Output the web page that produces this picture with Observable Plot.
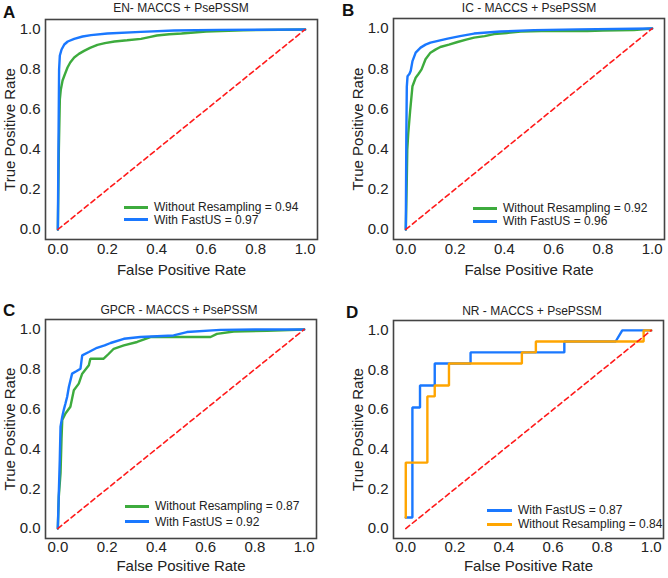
<!DOCTYPE html>
<html>
<head>
<meta charset="utf-8">
<script src="https://cdn.jsdelivr.net/npm/d3@7"></script>
<script src="https://cdn.jsdelivr.net/npm/@observablehq/plot@0.6"></script>
<style>
  html, body { margin: 0; padding: 0; background: #fff; }
  #page { position: relative; width: 668px; height: 578px; overflow: hidden; background: #fff;
          font-family: "Liberation Sans", Arial, Helvetica, sans-serif; color: #222; }
  .panel { position: absolute; width: 334px; height: 289px; }
  .abs { position: absolute; line-height: 1; white-space: nowrap; }
  .title { font-size: 12px; transform: translate(-50%, -50%); }
  .letter { font-size: 17px; font-weight: bold; color: #111; }
  .lrow { position: absolute; display: flex; align-items: center; transform: translateY(-50%);
          font-size: 12px; line-height: 1; white-space: nowrap; }
  .lrow .sw { display: inline-block; height: 3px; margin-right: 6px; }
</style>
</head>
<body>
<div id="page"></div>
<script>
// ---------------- data ----------------
const ticks = [0, 0.2, 0.4, 0.6, 0.8, 1.0];
const chanceLine = [0, 1];

// Panel A: EN
const enWithoutFpr = [0, 0.004, 0.008, 0.012, 0.019, 0.028, 0.039, 0.05, 0.066, 0.085, 0.106, 0.13, 0.16, 0.19, 0.229, 0.28, 0.336, 0.37, 0.4, 0.45, 0.5, 0.6, 0.75, 1];
const enWithoutTpr = [0, 0.4, 0.65, 0.7, 0.745, 0.775, 0.81, 0.835, 0.86, 0.878, 0.893, 0.908, 0.923, 0.932, 0.94, 0.946, 0.953, 0.962, 0.97, 0.976, 0.98, 0.99, 0.996, 1];
const enFastFpr = [0, 0.003, 0.005, 0.008, 0.015, 0.026, 0.04, 0.066, 0.1, 0.134, 0.2, 0.336, 0.47, 0.65, 1];
const enFastTpr = [0, 0.5, 0.8, 0.87, 0.9, 0.925, 0.94, 0.953, 0.965, 0.972, 0.98, 0.988, 0.995, 0.998, 1];

// Panel B: IC
const icWithoutFpr = [0, 0.004, 0.006, 0.01, 0.018, 0.027, 0.04, 0.052, 0.064, 0.08, 0.1, 0.12, 0.14, 0.175, 0.21, 0.245, 0.277, 0.32, 0.358, 0.41, 0.466, 0.55, 0.655, 0.737, 0.8, 0.926, 1];
const icWithoutTpr = [0, 0.25, 0.4, 0.48, 0.597, 0.713, 0.755, 0.775, 0.797, 0.847, 0.88, 0.895, 0.908, 0.92, 0.933, 0.945, 0.955, 0.962, 0.972, 0.978, 0.985, 0.987, 0.988, 0.988, 0.99, 0.993, 1];
const icFastFpr = [0, 0.002, 0.004, 0.007, 0.015, 0.02, 0.027, 0.04, 0.06, 0.08, 0.1, 0.135, 0.17, 0.22, 0.277, 0.33, 0.385, 0.52, 0.7, 1];
const icFastTpr = [0, 0.45, 0.71, 0.763, 0.775, 0.79, 0.838, 0.88, 0.905, 0.92, 0.93, 0.94, 0.95, 0.962, 0.975, 0.98, 0.985, 0.992, 0.996, 1];

// Panel C: GPCR
const gpcrWithoutFpr = [0, 0.004, 0.011, 0.015, 0.018, 0.031, 0.051, 0.065, 0.085, 0.099, 0.126, 0.132, 0.186, 0.207, 0.227, 0.268, 0.322, 0.376, 0.5, 0.62, 0.646, 0.714, 0.85, 1];
const gpcrWithoutTpr = [0, 0.16, 0.278, 0.45, 0.545, 0.578, 0.612, 0.695, 0.728, 0.778, 0.82, 0.853, 0.853, 0.878, 0.903, 0.92, 0.937, 0.962, 0.962, 0.962, 0.978, 0.99, 0.993, 1];
const gpcrFastFpr = [0, 0.004, 0.008, 0.011, 0.018, 0.025, 0.031, 0.038, 0.045, 0.058, 0.075, 0.092, 0.099, 0.126, 0.159, 0.19, 0.214, 0.268, 0.335, 0.47, 0.524, 0.66, 0.8, 1];
const gpcrFastTpr = [0, 0.178, 0.345, 0.512, 0.562, 0.6, 0.628, 0.662, 0.712, 0.778, 0.79, 0.803, 0.87, 0.887, 0.908, 0.92, 0.932, 0.953, 0.962, 0.97, 0.987, 0.998, 1, 1];

// Panel D: NR
const nrFastFpr = [0, 0.027, 0.027, 0.058, 0.058, 0.118, 0.118, 0.264, 0.264, 0.646, 0.646, 0.855, 0.882, 1];
const nrFastTpr = [0.056, 0.056, 0.611, 0.611, 0.722, 0.722, 0.833, 0.833, 0.889, 0.889, 0.944, 0.944, 1, 1];
const nrWithoutFpr = [0, 0, 0.088, 0.088, 0.118, 0.118, 0.176, 0.176, 0.473, 0.473, 0.53, 0.53, 0.969, 0.969, 1];
const nrWithoutTpr = [0.056, 0.333, 0.333, 0.667, 0.667, 0.722, 0.722, 0.833, 0.833, 0.889, 0.889, 0.944, 0.944, 1, 1];

const GREEN = "#3dab3d", BLUE = "#1a78ff", ORANGE = "#ffa500";

const panels = [
  { letter: "A", title: "EN- MACCS + PsePSSM", left: 0, top: 0,
    m: {l: 45, r: 17, t: 19, b: 50}, tickPad: 4, labelOffset: 35,
    titlePos: [181, 7.5], letterPos: [3, 4],
    series: [
      {name: "Without Resampling = 0.94", fpr: enWithoutFpr, tpr: enWithoutTpr, color: GREEN},
      {name: "With FastUS = 0.97", fpr: enFastFpr, tpr: enFastTpr, color: BLUE}],
    legend: {x: 124, y: 207, dy: 12.5, w: 24} },
  { letter: "B", title: "IC - MACCS + PsePSSM", left: 334, top: 0,
    m: {l: 59, r: 4, t: 18, b: 50}, tickPad: 4, labelOffset: 35,
    titlePos: [195, 7.5], letterPos: [8, 2],
    series: [
      {name: "Without Resampling = 0.92", fpr: icWithoutFpr, tpr: icWithoutTpr, color: GREEN},
      {name: "With FastUS = 0.96", fpr: icFastFpr, tpr: icFastTpr, color: BLUE}],
    legend: {x: 139, y: 208, dy: 13, w: 24} },
  { letter: "C", title: "GPCR - MACCS + PsePSSM", left: 0, top: 289,
    m: {l: 45, r: 18, t: 30, b: 40}, tickPad: 3, labelOffset: 32,
    titlePos: [179, 21], letterPos: [3, 13],
    series: [
      {name: "Without Resampling = 0.87", fpr: gpcrWithoutFpr, tpr: gpcrWithoutTpr, color: GREEN},
      {name: "With FastUS = 0.92", fpr: gpcrFastFpr, tpr: gpcrFastTpr, color: BLUE}],
    legend: {x: 125, y: 217, dy: 15.5, w: 24} },
  { letter: "D", title: "NR - MACCS + PsePSSM", left: 334, top: 289,
    m: {l: 59, r: 5, t: 31, b: 40}, tickPad: 3, labelOffset: 32,
    titlePos: [198, 22], letterPos: [12, 15],
    series: [
      {name: "Without Resampling = 0.84", fpr: nrWithoutFpr, tpr: nrWithoutTpr, color: ORANGE, legendOrder: 1},
      {name: "With FastUS = 0.87", fpr: nrFastFpr, tpr: nrFastTpr, color: BLUE, legendOrder: 0}],
    order: [1, 0],
    legend: {x: 153, y: 221, dy: 14, w: 25} }
];

const page = document.getElementById("page");

for (const p of panels) {
  const div = document.createElement("div");
  div.className = "panel";
  div.style.left = p.left + "px";
  div.style.top = p.top + "px";

  const drawOrder = p.order ? p.order.map(i => p.series[i]) : p.series;
  const lineMarks = drawOrder.map(s =>
    Plot.line(s.fpr.map((f, i) => ({fpr: f, tpr: s.tpr[i]})),
      {x: "fpr", y: "tpr", stroke: s.color, strokeWidth: 2.4, strokeLinejoin: "miter"}));

  const chart = Plot.plot({
    width: 334, height: 289,
    marginLeft: p.m.l, marginRight: p.m.r, marginTop: p.m.t, marginBottom: p.m.b,
    style: {fontFamily: '"Liberation Sans", Arial, sans-serif', fontSize: "15px", color: "#222", background: "transparent", overflow: "visible"},
    x: {domain: [-0.05, 1.05]},
    y: {domain: [-0.05, 1.05]},
    marks: [
      Plot.axisX(ticks, {tickSize: 0, tickPadding: p.tickPad, tickFormat: d3.format(".1f"), fontSize: 15,
        label: "False Positive Rate", labelAnchor: "center", labelArrow: "none", labelOffset: p.labelOffset}),
      Plot.axisY(ticks, {tickSize: 0, tickPadding: 5, tickFormat: d3.format(".1f"), fontSize: 15,
        label: "True Positive Rate", labelAnchor: "center", labelArrow: "none", labelOffset: 41}),
      ...lineMarks,
      Plot.line(chanceLine, {x: d => d, y: d => d, stroke: "#ff1a1a", strokeWidth: 1.6, strokeDasharray: "5,3.5"}),
      Plot.frame({stroke: "#444", strokeWidth: 1.6})
    ]
  });
  div.appendChild(chart);

  // title
  const t = document.createElement("div");
  t.className = "abs title";
  t.textContent = p.title;
  t.style.left = p.titlePos[0] + "px";
  t.style.top = p.titlePos[1] + "px";
  div.appendChild(t);

  // panel letter
  const L = document.createElement("div");
  L.className = "abs letter";
  L.textContent = p.letter;
  L.style.left = p.letterPos[0] + "px";
  L.style.top = p.letterPos[1] + "px";
  div.appendChild(L);

  // legend
  const legendSeries = p.order ? p.series.slice().sort((a, b) => a.legendOrder - b.legendOrder) : p.series;
  legendSeries.forEach((s, i) => {
    const row = document.createElement("div");
    row.className = "lrow";
    row.style.left = p.legend.x + "px";
    row.style.top = (p.legend.y + i * p.legend.dy) + "px";
    const sw = document.createElement("span");
    sw.className = "sw";
    sw.style.width = p.legend.w + "px";
    sw.style.background = s.color;
    const tx = document.createElement("span");
    tx.textContent = s.name;
    row.appendChild(sw);
    row.appendChild(tx);
    div.appendChild(row);
  });

  page.appendChild(div);
}
</script>
</body>
</html>
